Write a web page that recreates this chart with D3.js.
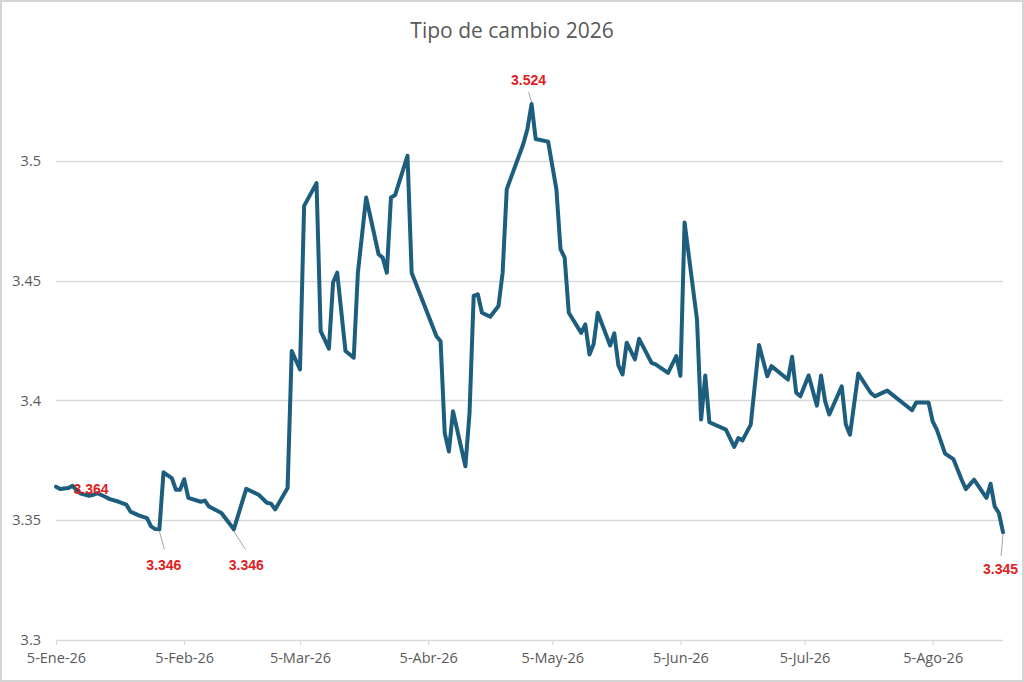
<!DOCTYPE html>
<html>
<head>
<meta charset="utf-8">
<script src="https://cdn.jsdelivr.net/npm/d3@7/dist/d3.min.js"></script>
<style>
  html, body { margin: 0; padding: 0; background: #fff; }
  svg { display: block; }
</style>
</head>
<body>
<svg id="chart" width="1024" height="682"></svg>
<script>
// ---- Data ----
const title = "Tipo de cambio 2026";

const dates = [
  "2026-01-05","2026-01-06","2026-01-08","2026-01-09","2026-01-10","2026-01-11","2026-01-13","2026-01-14","2026-01-15","2026-01-17",
  "2026-01-18","2026-01-20","2026-01-22","2026-01-23","2026-01-25","2026-01-27","2026-01-28","2026-01-29","2026-01-30","2026-01-31",
  "2026-02-02","2026-02-03","2026-02-04","2026-02-05","2026-02-06","2026-02-09","2026-02-10","2026-02-11","2026-02-14","2026-02-17",
  "2026-02-20","2026-02-23","2026-02-25","2026-02-26","2026-02-27","2026-03-02","2026-03-03","2026-03-05","2026-03-06","2026-03-09",
  "2026-03-10","2026-03-12","2026-03-13","2026-03-14","2026-03-16","2026-03-18","2026-03-19","2026-03-21","2026-03-24","2026-03-25",
  "2026-03-26","2026-03-27","2026-03-28","2026-03-31","2026-04-01","2026-04-07","2026-04-08","2026-04-09","2026-04-10","2026-04-11",
  "2026-04-14","2026-04-15","2026-04-16","2026-04-17","2026-04-18","2026-04-20","2026-04-22","2026-04-23","2026-04-24","2026-04-28",
  "2026-04-29","2026-04-30","2026-05-01","2026-05-04","2026-05-06","2026-05-07","2026-05-08","2026-05-09","2026-05-12","2026-05-13",
  "2026-05-14","2026-05-15","2026-05-16","2026-05-19","2026-05-20","2026-05-21","2026-05-22","2026-05-23","2026-05-25","2026-05-26",
  "2026-05-29","2026-05-30","2026-06-02","2026-06-04","2026-06-05","2026-06-06","2026-06-09","2026-06-10","2026-06-11","2026-06-12",
  "2026-06-16","2026-06-18","2026-06-19","2026-06-20","2026-06-22","2026-06-24","2026-06-26","2026-06-27","2026-07-01","2026-07-02",
  "2026-07-03","2026-07-04","2026-07-06","2026-07-08","2026-07-09","2026-07-10","2026-07-11","2026-07-14","2026-07-15","2026-07-16",
  "2026-07-18","2026-07-21","2026-07-22","2026-07-25","2026-07-31","2026-08-01","2026-08-04","2026-08-05","2026-08-06","2026-08-08",
  "2026-08-10","2026-08-12","2026-08-13","2026-08-15","2026-08-18","2026-08-19","2026-08-20","2026-08-21","2026-08-22"
];

const rates = [
  3.364,3.363,3.3634,3.3644,3.3624,3.3611,3.3602,3.3606,3.3613,3.3597,
  3.3588,3.3578,3.3565,3.3536,3.352,3.3509,3.3474,3.3463,3.3462,3.370,
  3.3676,3.3627,3.3627,3.3671,3.3593,3.3577,3.3582,3.3557,3.353,3.3462,
  3.3631,3.3606,3.3573,3.3569,3.3545,3.3634,3.4206,3.4129,3.4812,3.4907,
  3.4289,3.4216,3.4492,3.4533,3.4206,3.4178,3.4533,3.4847,3.461,3.4596,
  3.4533,3.4847,3.4857,3.5021,3.4533,3.4268,3.4247,3.3864,3.3787,3.3955,
  3.3725,3.3948,3.4436,3.4443,3.4366,3.4349,3.4394,3.4533,3.4882,3.507,
  3.5133,3.5237,3.5091,3.508,3.4882,3.4631,3.4596,3.4366,3.4282,3.4317,
  3.4192,3.4234,3.4366,3.4229,3.428,3.4146,3.4108,3.4241,3.4171,3.4257,
  3.4157,3.415,3.4115,3.4185,3.4103,3.4742,3.4338,3.392,3.4104,3.3909,
  3.3878,3.3806,3.3843,3.3833,3.3899,3.4231,3.4101,3.4143,3.4087,3.4182,
  3.4032,3.4017,3.4104,3.3978,3.4104,3.3996,3.3941,3.4059,3.3899,3.3857,
  3.4112,3.4032,3.4017,3.4041,3.3959,3.3991,3.3991,3.3912,3.3878,3.3778,
  3.3755,3.3669,3.363,3.3669,3.3593,3.3652,3.3557,3.353,3.345
];

const yTicks = [3.3, 3.35, 3.4, 3.45, 3.5];
const yTickLabels = ["3.3", "3.35", "3.4", "3.45", "3.5"];
const xTickDates = ["2026-01-05","2026-02-05","2026-03-05","2026-04-05","2026-05-05","2026-06-05","2026-07-05","2026-08-05"];
const xTickLabels = ["5-Ene-26","5-Feb-26","5-Mar-26","5-Abr-26","5-May-26","5-Jun-26","5-Jul-26","5-Ago-26"];
const yDomain = [3.3, 3.55];

// indices of labelled points: first, two lows, peak, last
const labelledIdx = [0, 18, 29, 71, 138];

// ---- Layout & style ----
const W = 1024, H = 682;
const plot = { left: 56, right: 1003, top: 41, bottom: 640 };
const lineColor = "#1d5d7e";
const labelColor = "#e0211d";
const textGray = "#595959";
const gridGray = "#d9d9d9";
// label placement per labelled point (offset of label centre/baseline and leader end)
const labelPlacement = [
  { dx: 35, dy: 7, leader: false },
  { dx: 4.5, dy: 41, leader: true, lx: 5, ly: 20 },
  { dx: 12.5, dy: 41, leader: true, lx: 11.5, ly: 20 },
  { dx: -3, dy: -19, leader: true, lx: -3, ly: -12 },
  { dx: -2.5, dy: 42, leader: true, lx: -2, ly: 24 }
];

const parse = d3.timeParse("%Y-%m-%d");
const data = dates.map((d, i) => ({ date: parse(d), value: rates[i] }));

const svg = d3.select("#chart");

svg.append("rect")
  .attr("x", 1).attr("y", 1).attr("width", W - 2).attr("height", H - 2)
  .attr("fill", "#fff").attr("stroke", "#d4d4d4").attr("stroke-width", 2);

const x = d3.scaleTime()
  .domain([data[0].date, data[data.length - 1].date])
  .range([plot.left, plot.right]);
const y = d3.scaleLinear().domain(yDomain).range([plot.bottom, plot.top]);

// gridlines
svg.append("g").selectAll("line")
  .data(yTicks.filter(t => t > yDomain[0]))
  .join("line")
  .attr("x1", plot.left).attr("x2", plot.right)
  .attr("y1", d => Math.round(y(d)) + 0.5).attr("y2", d => Math.round(y(d)) + 0.5)
  .attr("stroke", gridGray).attr("stroke-width", 1.3);

// y axis labels
const yAxis = d3.axisLeft(y).tickValues(yTicks).tickSize(0).tickPadding(0)
  .tickFormat((d, i) => yTickLabels[i]);
const gy = svg.append("g").attr("transform", `translate(${plot.left - 15},0)`).call(yAxis);
gy.select(".domain").remove();
gy.selectAll("text")
  .attr("font-family", "'Open Sans', sans-serif").attr("font-size", 14.5)
  .attr("fill", textGray);

// x axis
const xAxis = d3.axisBottom(x)
  .tickValues(xTickDates.map(parse))
  .tickSize(5).tickPadding(8)
  .tickFormat((d, i) => xTickLabels[i]);
const gx = svg.append("g").attr("transform", `translate(0,${plot.bottom})`).call(xAxis);
gx.select(".domain").attr("stroke", gridGray).attr("stroke-width", 1.3)
  .attr("d", `M${plot.left},0.5H${plot.right}`);
gx.selectAll(".tick line").attr("stroke", gridGray).attr("stroke-width", 1.3);
gx.selectAll("text")
  .attr("font-family", "'Open Sans', sans-serif").attr("font-size", 14.5)
  .attr("fill", textGray);

// line
const line = d3.line().x(d => x(d.date)).y(d => y(d.value));
svg.append("path")
  .datum(data)
  .attr("d", line)
  .attr("fill", "none")
  .attr("stroke", lineColor)
  .attr("stroke-width", 4)
  .attr("stroke-linejoin", "round")
  .attr("stroke-linecap", "round");

// data labels
const fmt = d3.format(".3f");
labelledIdx.forEach((idx, k) => {
  const p = data[idx];
  const px = x(p.date), py = y(p.value);
  const pl = labelPlacement[k];
  if (pl.leader) {
    svg.append("line")
      .attr("x1", px).attr("y1", py + (pl.ly > 0 ? 2 : -2))
      .attr("x2", px + pl.lx).attr("y2", py + pl.ly)
      .attr("stroke", "#a6a6a6").attr("stroke-width", 1);
  }
  svg.append("text")
    .attr("x", px + pl.dx).attr("y", py + pl.dy)
    .attr("text-anchor", "middle")
    .attr("font-family", "'Liberation Sans', Arial, sans-serif")
    .attr("font-weight", "bold")
    .attr("font-size", 14)
    .attr("fill", labelColor)
    .text(fmt(p.value));
});

// title
svg.append("text")
  .attr("x", 512).attr("y", 38)
  .attr("text-anchor", "middle")
  .attr("font-family", "'Open Sans', sans-serif")
  .attr("font-size", 21)
  .attr("fill", textGray)
  .text(title);
</script>
</body>
</html>
